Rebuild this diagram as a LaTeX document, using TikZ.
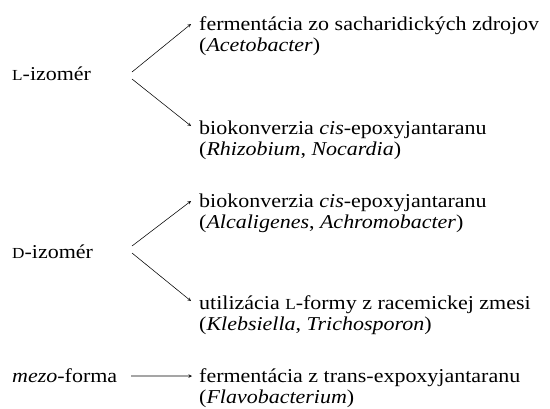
\documentclass[tikz,border=0pt]{standalone}
\usepackage{fontspec}
\setmainfont{Liberation Serif}[FakeStretch=1.12]
\usetikzlibrary{arrows,positioning}
\newcommand{\smcp}[1]{{\fontsize{15.4}{18}\selectfont #1}}

\begin{document}
\begin{tikzpicture}[
  x=1bp, y=-1bp,
  every node/.style={font=\fontsize{19.7}{21}\selectfont, inner sep=0pt, anchor=base west},
  conv/.style={draw, ->, >=stealth, line width=0.55pt}
]
\useasboundingbox (0,0) rectangle (550,408);
% isomers
\node (Liso) at (12,80) {\smcp{L}-izomér};
\node (Diso) at (12,258) {\smcp{D}-izomér};
\node (meso) at (12,382) {\textit{mezo}-forma};
\coordinate (Lfork) at (132,75.5);
\coordinate (Dfork) at (132,249.5);
\coordinate (mfork) at (131,376);
% routes
\node (ferm) at (199,30) {fermentácia zo sacharidických zdrojov};
\node (fermorg) at (199,51) {(\textit{Acetobacter})};
\node (bioL) at (199,134) {biokonverzia \textit{cis}-epoxyjantaranu};
\node (bioLorg) at (199,155) {(\textit{Rhizobium}, \textit{Nocardia})};
\node (bioD) at (199,207) {biokonverzia \textit{cis}-epoxyjantaranu};
\node (bioDorg) at (199,228) {(\textit{Alcaligenes}, \textit{Achromobacter})};
\node (util) at (199,309) {utilizácia \smcp{L}-formy z racemickej zmesi};
\node (utilorg) at (199,330) {(\textit{Klebsiella}, \textit{Trichosporon})};
\node (trans) at (199,382) {fermentácia z trans-expoxyjantaranu};
\node (transorg) at (199,403) {(\textit{Flavobacterium})};
% arrows
\draw[conv] ([yshift=3.5bp]Lfork) -- ([xshift=-8bp,yshift=6bp]ferm.base west);
\draw[conv] ([yshift=-3.5bp]Lfork) -- ([xshift=-8bp,yshift=8bp]bioL.base west);
\draw[conv] ([yshift=3.5bp]Dfork) -- ([xshift=-8bp,yshift=6bp]bioD.base west);
\draw[conv] ([yshift=-3.5bp]Dfork) -- ([xshift=-8bp,yshift=8bp]util.base west);
\draw[conv] (mfork) -- ([xshift=-7bp,yshift=6bp]trans.base west);
\end{tikzpicture}
\end{document}
